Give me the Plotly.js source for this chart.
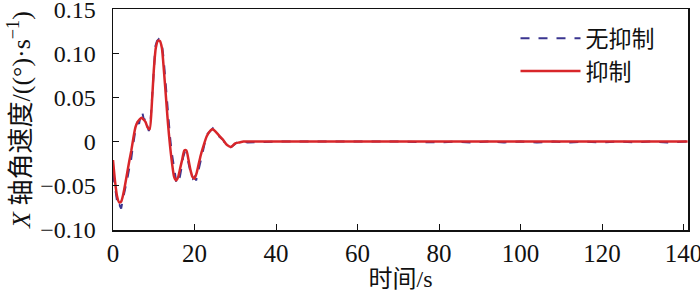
<!DOCTYPE html>
<html><head><meta charset="utf-8">
<script src="https://cdn.plot.ly/plotly-3.0.1.min.js"></script>
<style>html,body{margin:0;padding:0;background:#fff;}#chart{width:700px;height:295px;}</style>
</head><body><div id="chart"></div>
<script>
// Unsuppressed (无抑制) – noisy
const tNoSup = [0,0.4,0.8,1.2,1.6,2.0,2.4,2.8,3.2,3.6,4.0,4.4,4.8,5.2,5.6,6.0,6.4,6.8,7.2,7.6,8.0,8.4,8.8,9.2,9.6,10.0,10.4,10.8,11.2,11.6,12.0,12.4,12.8,13.2,13.6,14.0,14.4,14.8,15.2,15.6,16.0,16.4,16.8,17.2,17.6,18.0,18.4,18.8,19.2,19.6,20.0,20.4,20.8,21.2,21.6,22.0,22.5,23.0,23.5,24.0,24.5,25.0,25.5,26.0,26.5,27.0,27.5,28.0,28.5,29.0,29.5,30.0,31,32,33,40,50,60,70,80,84,88,92,96,100,104,108,112,116,120,124,128,132,136,141];
const vNoSup = [-0.036,-0.050,-0.066,-0.074,-0.072,-0.076,-0.066,-0.058,-0.050,-0.040,-0.030,-0.022,-0.008,0.004,0.016,0.022,0.020,0.030,0.033,0.024,0.027,0.018,0.012,0.022,0.050,0.084,0.108,0.114,0.116,0.112,0.110,0.095,0.070,0.048,0.025,0.005,-0.012,-0.026,-0.040,-0.048,-0.044,-0.040,-0.030,-0.018,-0.012,-0.014,-0.022,-0.032,-0.038,-0.042,-0.040,-0.044,-0.036,-0.028,-0.020,-0.010,0.000,0.008,0.010,0.012,0.015,0.012,0.010,0.006,0.004,0.002,-0.002,-0.004,-0.008,-0.006,-0.004,-0.002,0.001,0.000,-0.001,0.000,0.000,0.000,0.000,-0.001,0.000,-0.001,0.000,-0.001,0.000,-0.001,0.000,-0.001,0.000,-0.001,0.000,-0.001,0.000,-0.001,0.000];
// Suppressed (抑制) – smooth
const tSup = [0,0.5,1.0,1.5,2.0,2.5,3.0,3.5,4.0,4.5,5.0,5.5,6.0,6.5,7.0,7.5,8.0,8.5,9.0,9.5,10.0,10.5,11.0,11.5,12.0,12.5,13.0,13.5,14.0,14.5,15.0,15.5,16.0,16.5,17.0,17.5,18.0,18.5,19.0,19.5,20.0,20.5,21.0,21.5,22.0,23.0,24.0,24.5,25.0,26.0,27.0,28.0,29.0,30.0,31.0,32.0,33.0,141];
const vSup = [-0.021,-0.045,-0.062,-0.069,-0.068,-0.060,-0.048,-0.035,-0.022,-0.010,0.004,0.016,0.022,0.025,0.027,0.025,0.022,0.016,0.014,0.040,0.080,0.106,0.114,0.114,0.106,0.080,0.050,0.020,-0.005,-0.025,-0.040,-0.044,-0.040,-0.030,-0.020,-0.010,-0.010,-0.020,-0.032,-0.040,-0.042,-0.036,-0.026,-0.016,-0.008,0.006,0.013,0.014,0.012,0.007,0.002,-0.004,-0.006,-0.002,-0.001,0,0,0];

const seriesNames = ['无抑制','抑制'];
const yTickVals = [-0.10,-0.05,0,0.05,0.10,0.15];
const yTickText = ['−0.10','−0.05','0','0.05','0.10','0.15'];
const xTickVals = [0,20,40,60,80,100,120,140];

const FONT = 'Times New Roman, Liberation Serif, DejaVu Serif, Noto Sans CJK SC, serif';

const traces = [
  {x:tNoSup, y:vNoSup, name:seriesNames[0], type:'scatter', mode:'lines',
   line:{color:'#3a3590', width:2, dash:'dash'}},
  {x:tSup, y:vSup, name:seriesNames[1], type:'scatter', mode:'lines',
   line:{color:'#d8262a', width:2.5, shape:'spline', smoothing:0.6}}
];

const layout = {
  width:700, height:295,
  margin:{l:113, r:12, t:9, b:65},
  paper_bgcolor:'#fff', plot_bgcolor:'#fff',
  font:{family:FONT, size:22, color:'#111'},
  showlegend:true,
  legend:{x:0.70, y:0.965, xanchor:'left', yanchor:'top', bgcolor:'rgba(0,0,0,0)',
    font:{family:FONT, size:23, color:'#111'}, tracegroupgap:0, itemwidth:60},
  xaxis:{range:[0,141.1], tickvals:xTickVals, ticks:'inside', ticklen:6, tickcolor:'#111',
    showgrid:false, zeroline:false, showline:true, linecolor:'#111', linewidth:1.5, mirror:true,
    tickfont:{family:FONT, size:25}, automargin:false, ticklabeloverflow:'allow',
    title:{text:'时间/s', font:{family:FONT, size:24}, standoff:4}},
  yaxis:{range:[-0.1002,0.1502], tickvals:yTickVals, ticktext:yTickText, ticks:'inside', ticklen:6, tickcolor:'#111',
    showgrid:false, zeroline:false, showline:true, linecolor:'#111', linewidth:1.5, mirror:true,
    tickfont:{family:FONT, size:24}, automargin:false, ticklabeloverflow:'allow', ticklabelstandoff:11,
    title:{text:'<i>X</i> 轴角速度/((°)·s<sup>−1</sup>)', font:{family:FONT, size:26}, standoff:2}}
};

Plotly.newPlot('chart', traces, layout, {displayModeBar:false, staticPlot:true});
</script></body></html>
